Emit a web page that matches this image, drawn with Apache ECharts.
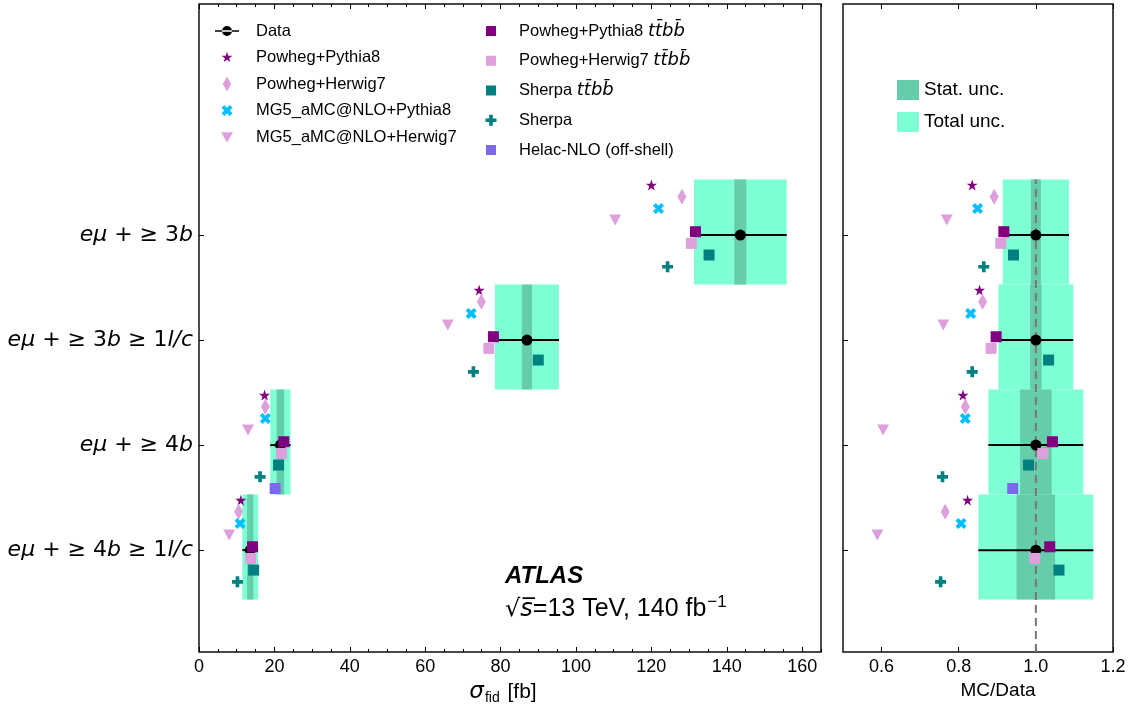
<!DOCTYPE html>
<html>
<head>
<meta charset="utf-8">
<title>ttbb fiducial cross-sections</title>
<script src="https://cdn.jsdelivr.net/npm/echarts@6/dist/echarts.min.js"></script>
<style>
  html, body { margin: 0; padding: 0; background: #fff; }
  #chart { width: 1142px; height: 714px; }
</style>
</head>
<body>
<div id="chart"></div>
<script>
const TTBB = 'tt\u0304bb\u0304';

// rows, top to bottom, and where they sit on the value axis
const rowLabels = ['eμ + ≥ 3b', 'eμ + ≥ 3b ≥ 1l/c', 'eμ + ≥ 4b', 'eμ + ≥ 4b ≥ 1l/c'];
const rowPos = [3, 2, 1, 0];

// measured cross-sections [fb]
const dataXsec = [143.6, 87.0, 21.6, 13.6];
const dataTotUnc = [12.3, 8.5, 2.7, 2.1];
const dataStatUnc = [1.6, 1.35, 1.0, 0.85];
// relative uncertainties (MC/Data panel)
const ratioTotUnc = [0.086, 0.097, 0.123, 0.149];
const ratioStatUnc = [0.013, 0.015, 0.041, 0.05];

// predictions [fb]
const pp8Xsec = [120.0, 74.3, 17.4, 11.1];
const ph7Xsec = [128.1, 74.9, 17.6, 10.5];
const mg5py8Xsec = [121.9, 72.2, 17.6, 10.9];
const mg5h7Xsec = [110.4, 66.0, 13.0, 8.0];
const pp8ttbbXsec = [131.7, 78.1, 22.5, 14.2];
const ph7ttbbXsec = [130.6, 76.9, 21.9, 13.7];
const sherpaTtbbXsec = [135.3, 90.0, 21.1, 14.5];
const sherpaXsec = [124.3, 72.8, 16.2, 10.2];
const helacXsec = [null, null, 20.2, null];

// predictions / data
const pp8Ratio = [0.835, 0.854, 0.811, 0.823];
const ph7Ratio = [0.892, 0.862, 0.817, 0.765];
const mg5py8Ratio = [0.849, 0.831, 0.817, 0.806];
const mg5h7Ratio = [0.769, 0.760, 0.604, 0.589];
const pp8ttbbRatio = [0.917, 0.897, 1.043, 1.036];
const ph7ttbbRatio = [0.909, 0.884, 1.018, 0.997];
const sherpaTtbbRatio = [0.942, 1.033, 0.981, 1.06];
const sherpaRatio = [0.865, 0.835, 0.758, 0.753];
const helacRatio = [null, null, 0.940, null];

const xTicks = [0, 20, 40, 60, 80, 100, 120, 140, 160];
const xMinorTicks = Array.from({ length: 34 }, (_, i) => i * 5);
const ratioTicks = [0.6, 0.8, 1.0, 1.2];

// layout
const yMin = -0.97, yMax = 5.2;
const bandUp = 0.53, bandDown = 0.47;
const rowOffsets = [0.476, 0.365, 0.254, 0.143, 0.032, -0.079, -0.190, -0.302, -0.413];

// the original uses a narrow Helvetica; use the narrow Liberation face if it is there
function fontAvailable(name) {
    const ctx = document.createElement('canvas').getContext('2d');
    const probe = 'MG5_aMC@NLO+Herwig7 0123456789';
    ctx.font = '40px monospace';
    const w0 = ctx.measureText(probe).width;
    ctx.font = '40px "' + name + '", monospace';
    return ctx.measureText(probe).width !== w0;
}
const NARROW = fontAvailable('Liberation Sans Narrow');
const FONT = NARROW ? '"Liberation Sans Narrow", "Liberation Sans", sans-serif' : '"Liberation Sans", Arial, sans-serif';
const fs = (regular, narrow) => NARROW ? narrow : regular;
const MATH = '"DejaVu Sans", sans-serif';

const PURPLE = '#800080', PLUM = '#dda0dd', SKY = '#00bfff', TEAL = '#008080', SLATE = '#7b68ee';
const TOTAL_COLOR = '#7fffd4', STAT_COLOR = '#66cdaa';

const STAR = 'M0,-10L2.245,-3.09L9.51,-3.09L3.633,1.18L5.88,8.09L0,3.82L-5.88,8.09L-3.633,1.18L-9.51,-3.09L-2.245,-3.09Z';
const PLUS = 'M-1,-3L1,-3L1,-1L3,-1L3,1L1,1L1,3L-1,3L-1,1L-3,1L-3,-1L-1,-1Z';
const XMARK = 'M1.414,-2.828L2.828,-1.414L1.414,0L2.828,1.414L1.414,2.828L0,1.414L-1.414,2.828L-2.828,1.414L-1.414,0L-2.828,-1.414L-1.414,-2.828L0,-1.414Z';
const TRI_DOWN = 'M-1,-0.8L1,-0.8L0,0.9Z';
const DIAMOND = 'M0,-1L0.56,0L0,1L-0.56,0Z';
const SQUARE = 'M-1,-1L1,-1L1,1L-1,1Z';
const DATA_ICON = 'path://M0,4.2L24,4.2L24,5.8L0,5.8Z M7,5A5,5 0 1 0 17,5A5,5 0 1 0 7,5Z';

const sym = p => 'path://' + p;
// legend icons keep aspect inside the item box; two empty points set their scale
const icon = (p, pad) => 'path://' + p + ` M${-pad},${-pad}L${-pad},${-pad} M${pad},${pad}L${pad},${pad}`;

const models = [
    { name: 'Powheg+Pythia8', symbol: sym(STAR), size: 11, color: PURPLE, xsec: pp8Xsec, ratio: pp8Ratio, icon: icon(STAR, 14) },
    { name: 'Powheg+Herwig7', symbol: sym(DIAMOND), size: [9, 16], color: PLUM, xsec: ph7Xsec, ratio: ph7Ratio, icon: icon(DIAMOND, 1.07) },
    { name: 'MG5_aMC@NLO+Pythia8', symbol: sym(XMARK), size: 11, color: SKY, xsec: mg5py8Xsec, ratio: mg5py8Ratio, icon: icon(XMARK, 4.1) },
    { name: 'MG5_aMC@NLO+Herwig7', symbol: sym(TRI_DOWN), size: [12, 11], color: PLUM, xsec: mg5h7Xsec, ratio: mg5h7Ratio, icon: icon(TRI_DOWN, 1.33) },
    { name: 'Powheg+Pythia8 ' + TTBB, symbol: 'rect', size: 11, color: PURPLE, xsec: pp8ttbbXsec, ratio: pp8ttbbRatio, icon: icon(SQUARE, 1.2) },
    { name: 'Powheg+Herwig7 ' + TTBB, symbol: 'rect', size: 11, color: PLUM, xsec: ph7ttbbXsec, ratio: ph7ttbbRatio, icon: icon(SQUARE, 1.2) },
    { name: 'Sherpa ' + TTBB, symbol: 'rect', size: 11, color: TEAL, xsec: sherpaTtbbXsec, ratio: sherpaTtbbRatio, icon: icon(SQUARE, 1.2) },
    { name: 'Sherpa', symbol: sym(PLUS), size: 11, color: TEAL, xsec: sherpaXsec, ratio: sherpaRatio, icon: icon(PLUS, 3.27) },
    { name: 'Helac-NLO (off-shell)', symbol: 'rect', size: 11, color: SLATE, xsec: helacXsec, ratio: helacRatio, icon: icon(SQUARE, 1.2) }
];

function bandSeries(name, color, axis, centers, errs, z) {
    return {
        type: 'custom',
        name: name,
        xAxisIndex: axis.x,
        yAxisIndex: axis.y,
        z: z,
        silent: true,
        itemStyle: { color: color },
        renderItem(params, api) {
            const x = api.value(0), err = api.value(1), y = api.value(2);
            const p0 = api.coord([x - err, y + bandUp]);
            const p1 = api.coord([x + err, y - bandDown]);
            return {
                type: 'rect',
                shape: { x: p0[0], y: p0[1], width: p1[0] - p0[0], height: p1[1] - p0[1] },
                style: { fill: color }
            };
        },
        encode: { x: 0, y: 2 },
        data: centers.map((c, i) => [c, errs[i], rowPos[i]])
    };
}

function errorBarSeries(axis, centers, errs) {
    return {
        type: 'custom',
        name: 'Data error',
        xAxisIndex: axis.x,
        yAxisIndex: axis.y,
        z: 4,
        silent: true,
        renderItem(params, api) {
            const x = api.value(0), err = api.value(1), y = api.value(2);
            const p0 = api.coord([x - err, y]);
            const p1 = api.coord([x + err, y]);
            return {
                type: 'line',
                shape: { x1: p0[0], y1: p0[1], x2: p1[0], y2: p1[1] },
                style: { stroke: '#000', lineWidth: 2 }
            };
        },
        encode: { x: 0, y: 2 },
        data: centers.map((c, i) => [c, errs[i], rowPos[i]])
    };
}

function pointSeries(name, symbol, size, color, axis, values, offset, z) {
    const pts = [];
    values.forEach((v, i) => {
        if (v !== null) pts.push([v, rowPos[i] + offset]);
    });
    return {
        type: 'scatter',
        name: name,
        xAxisIndex: axis.x,
        yAxisIndex: axis.y,
        z: z,
        symbol: symbol,
        symbolSize: size,
        itemStyle: { color: color, opacity: 1 },
        data: pts
    };
}

const LEFT = { x: 0, y: 0 };
const RIGHT = { x: 4, y: 1 };
const ratioOnes = dataXsec.map(() => 1.0);

const series = [
    bandSeries('Total unc.', TOTAL_COLOR, LEFT, dataXsec, dataTotUnc, 1),
    bandSeries('Stat. unc.', STAT_COLOR, LEFT, dataXsec, dataStatUnc, 2),
    errorBarSeries(LEFT, dataXsec, dataTotUnc),
    pointSeries('Data', 'circle', 11, '#000', LEFT, dataXsec, 0, 4),
    bandSeries('Total unc.', TOTAL_COLOR, RIGHT, ratioOnes, ratioTotUnc, 1),
    bandSeries('Stat. unc.', STAT_COLOR, RIGHT, ratioOnes, ratioStatUnc, 2),
    {
        type: 'line',
        name: 'unity',
        xAxisIndex: RIGHT.x,
        yAxisIndex: RIGHT.y,
        z: 3,
        silent: true,
        showSymbol: false,
        lineStyle: { color: '#777', width: 2, type: [8, 5] },
        data: [[1.0, yMin], [1.0, rowPos[0] + bandUp]]
    },
    errorBarSeries(RIGHT, ratioOnes, ratioTotUnc),
    pointSeries('Data', 'circle', 11, '#000', RIGHT, ratioOnes, 0, 4)
];
models.forEach((m, k) => {
    series.push(pointSeries(m.name, m.symbol, m.size, m.color, LEFT, m.xsec, rowOffsets[k], 5));
    series.push(pointSeries(m.name, m.symbol, m.size, m.color, RIGHT, m.ratio, rowOffsets[k], 5));
});

function tickAxis(gridIndex, position, min, max, ticks, len, extra) {
    return Object.assign({
        type: 'value',
        gridIndex: gridIndex,
        position: position,
        min: min,
        max: max,
        splitLine: { show: false },
        axisLine: { show: false, onZero: false },
        axisTick: { show: true, inside: true, length: len, customValues: ticks, lineStyle: { color: '#000', width: 1 } },
        axisLabel: { show: false }
    }, extra || {});
}

const tickLabelStyle = { fontFamily: FONT, fontSize: fs(18, 22), color: '#000' };

const legendText = name => name.endsWith(TTBB)
    ? name.slice(0, -TTBB.length) + '{m|' + TTBB + '}'
    : name;

const chart = echarts.init(document.getElementById('chart'));
chart.setOption({
    animation: false,
    backgroundColor: '#fff',
    grid: [
        { left: 199, right: 321, top: 4, bottom: 62, show: true, borderColor: '#111', borderWidth: 1.5 },
        { left: 843, right: 29, top: 4, bottom: 62, show: true, borderColor: '#111', borderWidth: 1.5 }
    ],
    xAxis: [
        tickAxis(0, 'bottom', 0, 165, xTicks, 5, {
            axisLabel: { show: true, customValues: xTicks, margin: 6, ...tickLabelStyle },
            name: '{s|σ}{sub|fid} [fb]',
            nameLocation: 'middle',
            nameGap: 24,
            nameTextStyle: {
                fontFamily: FONT, fontSize: fs(21, 24), color: '#000', padding: [0, 14, 0, 0],
                rich: {
                    s: { fontFamily: MATH, fontStyle: 'italic', fontSize: 23, color: '#000' },
                    sub: { fontFamily: FONT, fontSize: fs(14, 16), color: '#000', padding: [11, 2, 0, 1] }
                }
            }
        }),
        tickAxis(0, 'bottom', 0, 165, xMinorTicks, 3),
        tickAxis(0, 'top', 0, 165, xTicks, 5),
        tickAxis(0, 'top', 0, 165, xMinorTicks, 3),
        tickAxis(1, 'bottom', 0.5, 1.2, ratioTicks, 5, {
            axisLabel: { show: true, customValues: ratioTicks, margin: 6, formatter: v => v.toFixed(1), ...tickLabelStyle },
            name: 'MC/Data',
            nameLocation: 'middle',
            nameGap: 26,
            nameTextStyle: { fontFamily: FONT, fontSize: fs(19, 23), color: '#000', padding: [0, 0, 0, 40] }
        }),
        tickAxis(1, 'top', 0.5, 1.2, ratioTicks, 5)
    ],
    yAxis: [
        tickAxis(0, 'left', yMin, yMax, rowPos, 5, {
            axisLabel: {
                show: true,
                customValues: rowPos,
                margin: 6,
                fontFamily: MATH,
                fontSize: 22,
                color: '#000',
                formatter: v => rowLabels[rowPos.indexOf(v)].replace(/([a-zμ\/]+)/g, '{i|$1}'),
                rich: {
                    i: { fontFamily: MATH, fontStyle: 'italic', fontSize: 22, color: '#000' }
                }
            }
        }),
        tickAxis(1, 'left', yMin, yMax, rowPos, 5)
    ],
    legend: [
        {
            orient: 'vertical', left: 215, top: 21, padding: 0,
            itemWidth: 24, itemHeight: 16, itemGap: 6.5, selectedMode: false,
            textStyle: { fontFamily: FONT, fontSize: fs(16.5, 19), lineHeight: 20, color: '#000', padding: [0, 0, 0, 12] },
            data: [{ name: 'Data', icon: DATA_ICON, itemStyle: { color: '#000' } }]
                .concat(models.slice(0, 4).map(m => ({ name: m.name, icon: m.icon })))
        },
        {
            orient: 'vertical', left: 485, top: 20, padding: 0,
            itemWidth: 12, itemHeight: 12, itemGap: 7.75, selectedMode: false,
            formatter: legendText,
            textStyle: {
                fontFamily: FONT, fontSize: fs(16.5, 19), lineHeight: 22, color: '#000', padding: [0, 0, 0, 17],
                rich: { m: { fontFamily: MATH, fontStyle: 'italic', fontSize: 18, lineHeight: 22, color: '#000' } }
            },
            data: models.slice(4).map(m => ({ name: m.name, icon: m.icon }))
        },
        {
            orient: 'vertical', left: 897, top: 80, padding: 0,
            itemWidth: 22, itemHeight: 20, itemGap: 12, selectedMode: false,
            textStyle: { fontFamily: FONT, fontSize: fs(19, 23), lineHeight: 20, color: '#000' },
            data: [
                { name: 'Stat. unc.', icon: 'rect', itemStyle: { color: STAT_COLOR } },
                { name: 'Total unc.', icon: 'rect', itemStyle: { color: TOTAL_COLOR } }
            ]
        }
    ],
    graphic: [
        {
            type: 'text', left: 505, top: fs(564, 562), z: 10,
            style: { text: 'ATLAS', font: 'italic bold ' + fs(24, 27) + 'px ' + FONT, fill: '#000' }
        },
        {
            type: 'text', left: 505, top: 594, z: 10,
            style: {
                text: '{r|√}{s|s\u0305}{t|=13 TeV, 140 fb}{sup|−1}',
                fill: '#000',
                rich: {
                    r: { fontFamily: MATH, fontSize: 24, color: '#000' },
                    s: { fontFamily: MATH, fontStyle: 'italic', fontSize: 24, color: '#000' },
                    t: { fontFamily: FONT, fontSize: fs(25, 28), color: '#000' },
                    sup: { fontFamily: FONT, fontSize: fs(17, 19), color: '#000', padding: [0, 0, 14, 1] }
                }
            }
        }
    ],
    series: series
});
</script>
</body>
</html>
